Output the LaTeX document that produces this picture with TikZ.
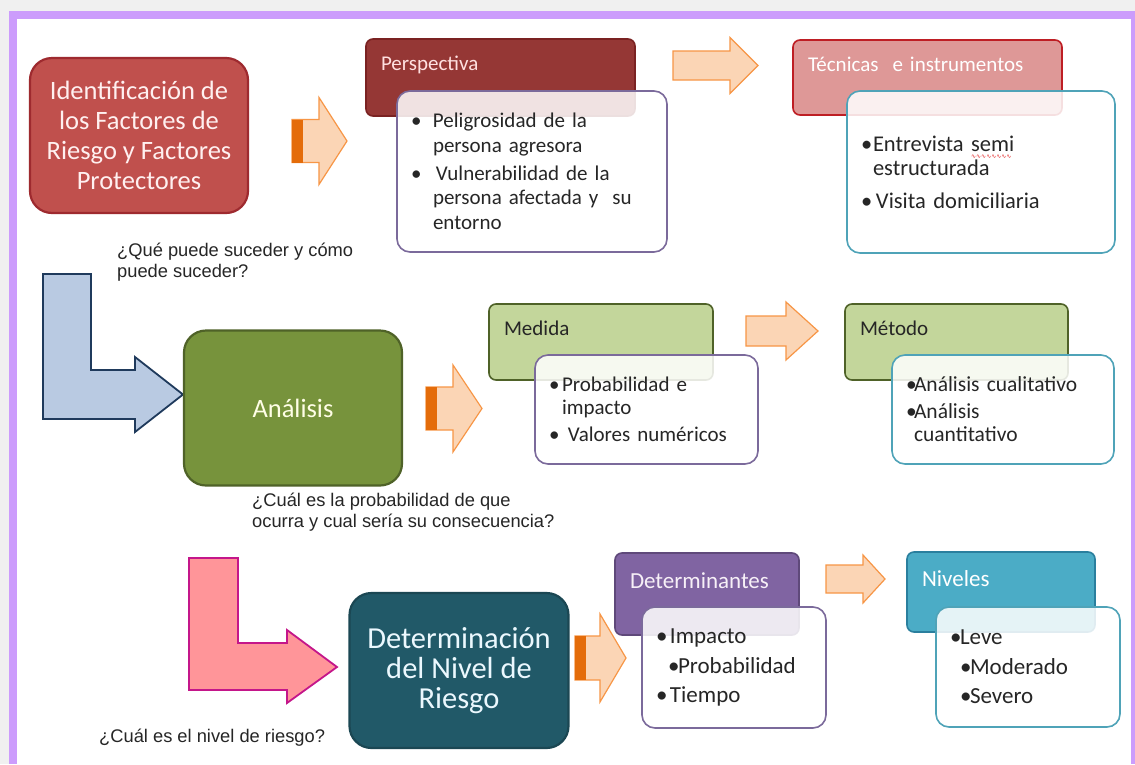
\documentclass[tikz,border=0pt]{standalone}
\usepackage{fontspec}
\setmainfont{Carlito}
\newfontfamily\qfont{Liberation Sans}
\newfontfamily\wavefont{DejaVu Sans}
\definecolor{pageG}{HTML}{F0F0F0}
\definecolor{frameP}{HTML}{CC9CFC}
\definecolor{redF}{HTML}{C0504D}
\definecolor{redD}{HTML}{9E2A2F}
\definecolor{perspF}{HTML}{953735}
\definecolor{perspD}{HTML}{7A2222}
\definecolor{tecF}{HTML}{DE9897}
\definecolor{tecD}{HTML}{BE1E24}
\definecolor{greenF}{HTML}{77933C}
\definecolor{greenD}{HTML}{4F6228}
\definecolor{limeF}{HTML}{C3D69B}
\definecolor{detF}{HTML}{215968}
\definecolor{detD}{HTML}{1B4753}
\definecolor{violF}{HTML}{8064A2}
\definecolor{violD}{HTML}{5F497A}
\definecolor{blueF}{HTML}{4BACC6}
\definecolor{blueD}{HTML}{2A7F9E}
\definecolor{edgeV}{HTML}{7B6A9B}
\definecolor{edgeT}{HTML}{4FA3B8}
\definecolor{peach}{HTML}{FBD5B5}
\definecolor{peachD}{HTML}{F79646}
\definecolor{stripe}{HTML}{E46C0A}
\definecolor{steelF}{HTML}{B9CAE2}
\definecolor{steelD}{HTML}{1F3A5C}
\definecolor{pinkF}{HTML}{FF9599}
\definecolor{pinkD}{HTML}{C4168A}
\definecolor{ink}{HTML}{262626}
\definecolor{squig}{HTML}{E02020}
\newcommand{\bl}[1]{\makebox[#1][l]{\textbullet}}
\newcommand{\redwave}[1]{\leavevmode\rlap{\raisebox{-7pt}[0pt][0pt]{%
  \textcolor{squig}{\wavefont\fontsize{6}{6}\selectfont ∿∿∿∿∿∿∿∿}}}#1}
\newcommand{\fatarrow}[6]{% tail, head base, tip, mid y, half shaft, half head
  \draw[blockarrow] (#1,#4-#5) -- (#2,#4-#5) -- (#2,#4-#6) -- (#3,#4)
    -- (#2,#4+#6) -- (#2,#4+#5) -- (#1,#4+#5) -- cycle;}
\tikzset{
  mainbox/.style ={draw, line width=2.2pt, rounded corners=22pt, align=center,
                   minimum width=218pt, minimum height=155pt, inner sep=4pt,
                   font=\fontsize{26.5}{30}\selectfont},
  hdr/.style     ={draw, line width=1.6pt, rounded corners=7pt, inner xsep=15pt,
                   inner ysep=0pt, align=left, text height=31pt,
                   font=\fontsize{21}{25}\selectfont},
  hdr-big/.style ={hdr, font=\fontsize{23}{27}\selectfont},
  pts/.style     ={draw, line width=1.6pt, rounded corners=13pt, fill=white,
                   fill opacity=0.86, text opacity=1, inner xsep=14pt,
                   inner ysep=0pt, align=left, text=ink},
  blockarrow/.style={fill=peach, draw=peachD, line width=1.2pt},
  bentarrow/.style ={line width=1.8pt, line join=miter},
  question/.style={font=\qfont\fontsize{18.3}{21}\selectfont, text=ink,
                   align=left, anchor=west, inner sep=0pt},
}
\begin{document}
\begin{tikzpicture}[x=1pt, y=-1pt]

% --- frame ---
\useasboundingbox (0,0) rectangle (1135,764);
\fill[pageG] (0,0) rectangle (1135,764);
\fill[frameP] (9,11) rectangle (1135,764);
\fill[white] (17,19) rectangle (1131,764);

% --- row 1: identificacion ---
\node[mainbox, fill=redF, draw=redD, text=white!94!red] (idf) at (139,135.5)
  {Identificación de\\los Factores de\\Riesgo y Factores\\Protectores};

\fatarrow{292}{319}{347}{141}{21.5}{43.5}
\fill[stripe] (292,119.5) rectangle (303,162.5);

\node[hdr, fill=perspF, draw=perspD, text=white!88!red, text width=239pt,
      text depth=46pt] (persH) at (500.5,77.5) {Perspectiva};
\node[pts, draw=edgeV, text width=242pt, minimum height=161pt,
      font=\fontsize{21}{24.5}\selectfont] (persP) at (532,171.5)
  {\bl{22pt}Peligrosidad de la\\
   \hspace*{22pt}persona agresora\\[3.5pt]
   \bl{25pt}Vulnerabilidad de la\\
   \hspace*{22pt}persona afectada y\ \ su\\
   \hspace*{22pt}entorno};

\fatarrow{673}{730}{758}{65.5}{14.5}{28}

\node[hdr, fill=tecF, draw=tecD, text=white, text width=239pt,
      text depth=44pt] (tecH) at (927.5,77.5) {Técnicas\ \ e instrumentos};
\node[pts, draw=edgeT, text width=240pt, minimum height=162pt,
      font=\fontsize{22.5}{24}\selectfont] (tecP) at (981,172)
  {\bl{12pt}Entrevista \redwave{semi}\\
   \hspace*{12pt}estructurada\\[9pt]
   \bl{15pt}Visita domiciliaria};

% --- row 2: analisis ---
\node[question] (qA) at (117,262.5) {¿Qué puede suceder y cómo\\puede suceder?};

\draw[bentarrow, fill=steelF, draw=steelD] (43,274) -- (91,274) -- (91,370)
  -- (135,370) -- (135,357) -- (183,394.5) -- (135,432) -- (135,419)
  -- (43,419) -- cycle;

\node[mainbox, fill=greenF, draw=greenD, text=white!90!yellow] (ana) at (293,408)
  {Análisis};

\fatarrow{426}{453}{482}{408.5}{21.5}{43.5}
\fill[stripe] (426,387) rectangle (437,430);

\node[hdr, fill=limeF, draw=greenD, text=ink, text width=194pt,
      text depth=45pt] (medH) at (601,342) {Medida};
\node[pts, draw=edgeV, text width=195pt, minimum height=109pt,
      font=\fontsize{21}{23}\selectfont] (medP) at (646.5,409.5)
  {\bl{13pt}Probabilidad e\\
   \hspace*{13pt}impacto\\[4pt]
   \bl{19pt}Valores numéricos};

\fatarrow{746}{786}{818}{331}{15}{29}

\node[hdr, fill=limeF, draw=greenD, text=ink, text width=193pt,
      text depth=45pt] (metH) at (956.5,342) {Método};
\node[pts, draw=edgeT, text width=194pt, minimum height=109pt,
      font=\fontsize{21.5}{23}\selectfont] (metP) at (1003,409.5)
  {\bl{8pt}Análisis cualitativo\\[4pt]
   \bl{8pt}Análisis\\
   \hspace*{8pt}cuantitativo};

\node[question] (qB) at (252,512.5)
  {¿Cuál es la probabilidad de que\\ocurra y cual sería su consecuencia?};

% --- row 3: nivel de riesgo ---
\draw[bentarrow, fill=pinkF, draw=pinkD] (189,558) -- (238,558) -- (238,643)
  -- (287,643) -- (287,630) -- (337,667) -- (287,703) -- (287,690)
  -- (189,690) -- cycle;

\node[mainbox, fill=detF, draw=detD, text=white!92!cyan, minimum width=219pt,
      font=\fontsize{30.5}{30}\selectfont] (dnr) at (459,670.5)
  {Determinación\\del Nivel de\\Riesgo};

\node[question] (qC) at (99,738) {¿Cuál es el nivel de riesgo?};

\fatarrow{575}{600}{626}{658}{22}{44}
\fill[stripe] (575,636) rectangle (586,680);

\node[hdr-big, fill=violF, draw=violD, text=white!94!violet, text width=154pt,
      text height=35pt, text depth=47pt] (detH) at (707,594) {Determinantes};
\node[pts, draw=edgeV, text width=156pt, minimum height=121pt,
      font=\fontsize{23}{26}\selectfont] (detP) at (734,667.5)
  {\bl{14pt}Impacto\\[3.5pt]
   \hspace*{12pt}\bl{10pt}Probabilidad\\[3.5pt]
   \bl{14pt}Tiempo};

\fatarrow{826}{863}{885}{579}{14}{24}

\node[hdr-big, fill=blueF, draw=blueD, text=white, text width=158pt,
      text height=34pt, text depth=46pt] (nivH) at (1001,592) {Niveles};
\node[pts, draw=edgeT, text width=156pt, minimum height=120pt,
      font=\fontsize{23}{26}\selectfont] (nivP) at (1028,667)
  {\bl{10pt}Leve\\[3.5pt]
   \hspace*{10pt}\bl{10pt}Moderado\\[3.5pt]
   \hspace*{10pt}\bl{10pt}Severo};

\end{tikzpicture}
\end{document}
